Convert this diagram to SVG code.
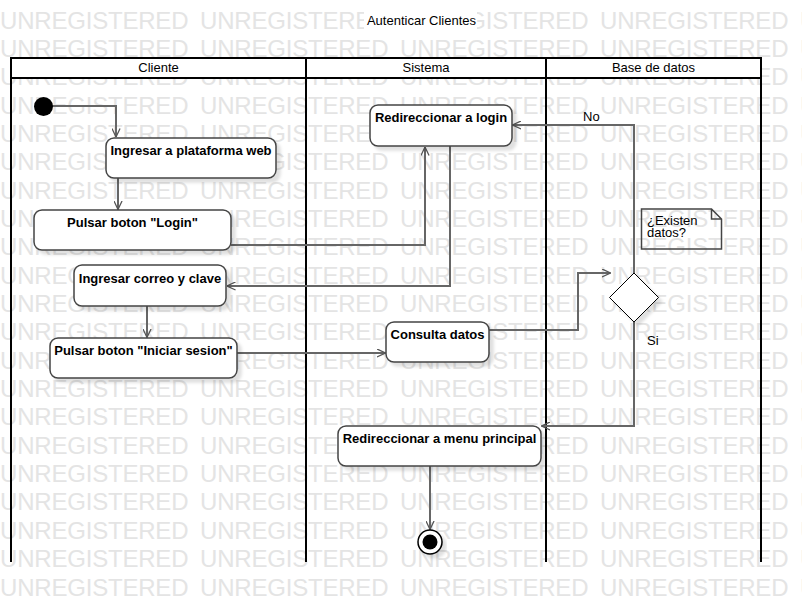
<svg xmlns="http://www.w3.org/2000/svg" xmlns:xlink="http://www.w3.org/1999/xlink" width="802" height="602" viewBox="0 0 802 602">
  <style>
    .wm { font-family: "Liberation Sans", Arial, sans-serif; font-size: 24px; fill: #e4e4e4; letter-spacing: -0.2px; }
    .title, .hdr, .lbl, .note { font-family: "Liberation Sans", Arial, sans-serif; font-size: 13px; fill: #000; }
    .title, .hdr { text-anchor: middle; }
    .act { fill: #fff; stroke: #444; stroke-width: 1.5; filter: url(#sh); }
    .act-t { font-family: "Liberation Sans", Arial, sans-serif; font-size: 13px; font-weight: bold; fill: #000; text-anchor: middle; }
    .lane { stroke: #000; stroke-width: 2; fill: none; }
    .flow { fill: none; stroke: #666; stroke-width: 2; marker-end: url(#arr); }
  </style>
  <defs>
    <marker id="arr" viewBox="0 0 10 10" refX="9.5" refY="5" markerWidth="9" markerHeight="9" markerUnits="userSpaceOnUse" orient="auto">
      <path d="M0,0.5 L9.5,5 L0,9.5" fill="none" stroke="#555" stroke-width="1.4"/>
    </marker>
    <filter id="sh" x="-10%" y="-15%" width="130%" height="150%">
      <feDropShadow dx="4" dy="4" stdDeviation="1.5" flood-color="#000" flood-opacity="0.12"/>
    </filter>
    <text id="wmrow" class="wm"><tspan x="0">UNREGISTERED</tspan><tspan x="200">UNREGISTERED</tspan><tspan x="400">UNREGISTERED</tspan><tspan x="600">UNREGISTERED</tspan><tspan x="800">UNREGISTERED</tspan></text>
  </defs>

  <rect width="802" height="602" fill="#fff"/>

  <!-- background watermark rows -->
  <g id="watermark">
    <use xlink:href="#wmrow" y="28.5"/>
    <use xlink:href="#wmrow" y="56.85"/>
    <use xlink:href="#wmrow" y="85.2"/>
    <use xlink:href="#wmrow" y="113.55"/>
    <use xlink:href="#wmrow" y="141.9"/>
    <use xlink:href="#wmrow" y="170.25"/>
    <use xlink:href="#wmrow" y="198.6"/>
    <use xlink:href="#wmrow" y="226.95"/>
    <use xlink:href="#wmrow" y="255.3"/>
    <use xlink:href="#wmrow" y="283.65"/>
    <use xlink:href="#wmrow" y="312"/>
    <use xlink:href="#wmrow" y="340.35"/>
    <use xlink:href="#wmrow" y="368.7"/>
    <use xlink:href="#wmrow" y="397.05"/>
    <use xlink:href="#wmrow" y="425.4"/>
    <use xlink:href="#wmrow" y="453.75"/>
    <use xlink:href="#wmrow" y="482.1"/>
    <use xlink:href="#wmrow" y="510.45"/>
    <use xlink:href="#wmrow" y="538.8"/>
    <use xlink:href="#wmrow" y="567.15"/>
    <use xlink:href="#wmrow" y="595.5"/>
  </g>

  <g id="titulo">
    <rect x="364" y="8" width="113" height="24" fill="#fff"/>
    <text class="title" x="421.5" y="25">Autenticar Clientes</text>
  </g>

  <!-- swimlanes -->
  <g id="lanes">
    <rect x="11" y="58" width="750" height="20" fill="#fff" stroke="none"/>
    <path class="lane" d="M11,562 V58 H761 V562 M11,78 H761 M306,58 V562 M546,58 V562"/>
    <text class="hdr" x="158.5" y="72">Cliente</text>
    <text class="hdr" x="426" y="72">Sistema</text>
    <text class="hdr" x="653.5" y="72">Base de datos</text>
  </g>

  <!-- connectors -->
  <g id="connectors">
    <path class="flow" d="M52,106 H116 V137"/>
    <path class="flow" d="M118,178 V209.5"/>
    <path class="flow" d="M231,245 H425 V147"/>
    <path class="flow" d="M450,146 V286 H227"/>
    <path class="flow" d="M147,306 V337.5"/>
    <path class="flow" d="M237,353 H385.5"/>
    <path class="flow" d="M489,330 H578 V273 H610.5"/>
    <path class="flow" d="M634,273 V125 H512.5"/>
    <path class="flow" d="M634,322 V426 H541.5"/>
    <path class="flow" d="M430,466 V529.5"/>
    <text class="lbl" x="583" y="121">No</text>
    <text class="lbl" x="647" y="345">Si</text>
  </g>

  <g id="start">
    <circle cx="43.5" cy="106.5" r="9.5" fill="#000"/>
  </g>

  <g id="ingresar-plataforma">
    <rect class="act" x="106" y="138" width="170" height="40" rx="8"/>
    <text class="act-t" x="191" y="155">Ingresar a plataforma web</text>
  </g>

  <g id="pulsar-login">
    <rect class="act" x="34" y="210" width="197" height="40" rx="8"/>
    <text class="act-t" x="132.5" y="227">Pulsar boton "Login"</text>
  </g>

  <g id="redireccionar-login">
    <rect class="act" x="370" y="105" width="142" height="41" rx="8"/>
    <text class="act-t" x="441" y="122">Redireccionar a login</text>
  </g>

  <g id="ingresar-correo">
    <rect class="act" x="74" y="265" width="152" height="41" rx="8"/>
    <text class="act-t" x="150" y="282.5">Ingresar correo y clave</text>
  </g>

  <g id="pulsar-iniciar">
    <rect class="act" x="50" y="338" width="187" height="40" rx="8"/>
    <text class="act-t" x="143.5" y="355">Pulsar boton "Iniciar sesion"</text>
  </g>

  <g id="consulta-datos">
    <rect class="act" x="386" y="322" width="103" height="40" rx="8"/>
    <text class="act-t" x="437.5" y="339">Consulta datos</text>
  </g>

  <g id="decision">
    <polygon class="act" points="634,273 658.5,297.5 634,322 609.5,297.5" style="stroke:#000;stroke-width:1"/>
  </g>

  <g id="nota">
    <path d="M641.5,209 H711.5 L721.5,219 V249 H641.5 Z M711.5,209 V219 H721.5" fill="none" stroke="#444" stroke-width="1.5"/>
    <text class="note" x="647" y="225">¿Existen</text>
    <text class="note" x="647" y="237">datos?</text>
  </g>

  <g id="redireccionar-menu">
    <rect class="act" x="338" y="426" width="203" height="40" rx="8"/>
    <text class="act-t" x="439.5" y="443">Redireccionar a menu principal</text>
  </g>

  <g id="fin">
    <circle cx="430" cy="542" r="12" fill="#fff" stroke="#000" stroke-width="1.5" filter="url(#sh)"/>
    <circle cx="430" cy="542" r="7.5" fill="#000"/>
  </g>
</svg>
